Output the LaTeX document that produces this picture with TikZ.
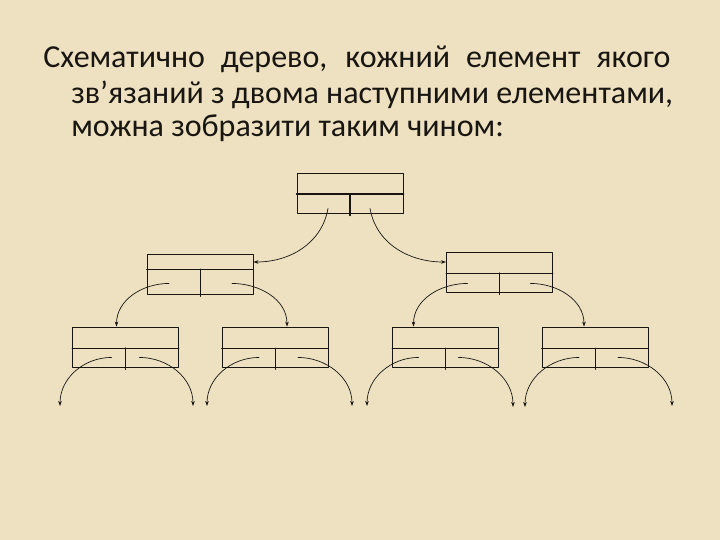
\documentclass[tikz,border=0pt]{standalone}
\usepackage{fontspec}
\setmainfont{Carlito}
\usetikzlibrary{arrows.meta}
\definecolor{parchment}{RGB}{237,225,193}
\definecolor{ink}{RGB}{25,22,18}
\begin{document}
\begin{tikzpicture}[x=1pt, y=-1pt, line cap=round, line join=round, >={Stealth[length=5pt,width=3.6pt]}, line width=0.7pt, color=ink]
	\tikzset{elem/.style={draw, line width=0.9pt, minimum width=106pt, minimum height=40pt, inner sep=0pt},
		txt/.style={anchor=base west, inner sep=0pt, font=\fontsize{32}{38}\selectfont}}
	\fill[parchment] (0,0) rectangle (720,540);
	\node[txt] (t1) at (43,68) {\makebox[627pt][s]{Схематично дерево, кожний елемент якого}};
	\node[txt] (t2) at (71,104) {зв’язаний з двома наступними елементами,};
	\node[txt] (t3) at (71,137) {можна зобразити таким чином:};
	% elements of the tree
	\node[elem] (r) at (350,193) {};
	\node[elem] (a) at (200,274) {};
	\node[elem] (b) at (499.5,272) {};
	\node[elem] (c1) at (125.5,347) {};
	\node[elem] (c2) at (275,347) {};
	\node[elem] (c3) at (445.5,347) {};
	\node[elem] (c4) at (595,347) {};
	\foreach \n/\d/\m/\w in {r/-1/1.6pt/1.6pt, a/5/0.9pt/0.8pt, b/-1/0.9pt/1.5pt, c1/-1/0.9pt/1.5pt, c2/-1/0.9pt/0.7pt, c3/-1/0.9pt/0.7pt, c4/-1/0.9pt/0.7pt}{
		\draw[line width=\m] ([yshift=\d pt]\n.west) -- ([yshift=\d pt]\n.east);
		\draw[line width=\w] ([yshift=\d pt]\n.center) -- ([yshift=-2pt]\n.south);
	}
	% links
	\draw[->] ([xshift=-22pt,yshift=5pt]r.south) to[out=-100,in=0] ([yshift=12pt]a.east);
	\draw[->] ([xshift=20pt,yshift=5pt]r.south) to[out=-80,in=180] ([yshift=10pt]b.west);
	\draw[->] ([xshift=-31pt,yshift=11pt]a.south) to[out=180,in=90] ([xshift=-9pt]c1.north);
	\draw[->] ([xshift=32pt,yshift=11pt]a.south) to[out=0,in=90] ([xshift=12pt]c2.north);
	\draw[->] ([xshift=-32pt,yshift=9pt]b.south) to[out=180,in=90] ([xshift=-32pt]c3.north);
	\draw[->] ([xshift=31pt,yshift=9pt]b.south) to[out=0,in=90] ([xshift=-11pt]c4.north);
	\coordinate (c1-l) at (60,406);
	\coordinate (c1-r) at (193,406);
	\coordinate (c2-l) at (207,406);
	\coordinate (c2-r) at (352,406);
	\coordinate (c3-l) at (367,406);
	\coordinate (c3-r) at (513,407);
	\coordinate (c4-l) at (525,407);
	\coordinate (c4-r) at (672,406);
	\foreach \n/\p/\q in {c1/-14/14, c2/-16/23, c3/-27/13, c4/-16/23}{
		\draw[->] ([xshift=\p pt,yshift=10pt]\n.south) to[out=180,in=90] (\n-l);
		\draw[->] ([xshift=\q pt,yshift=10pt]\n.south) to[out=0,in=90] (\n-r);
	}
\end{tikzpicture}
\end{document}
